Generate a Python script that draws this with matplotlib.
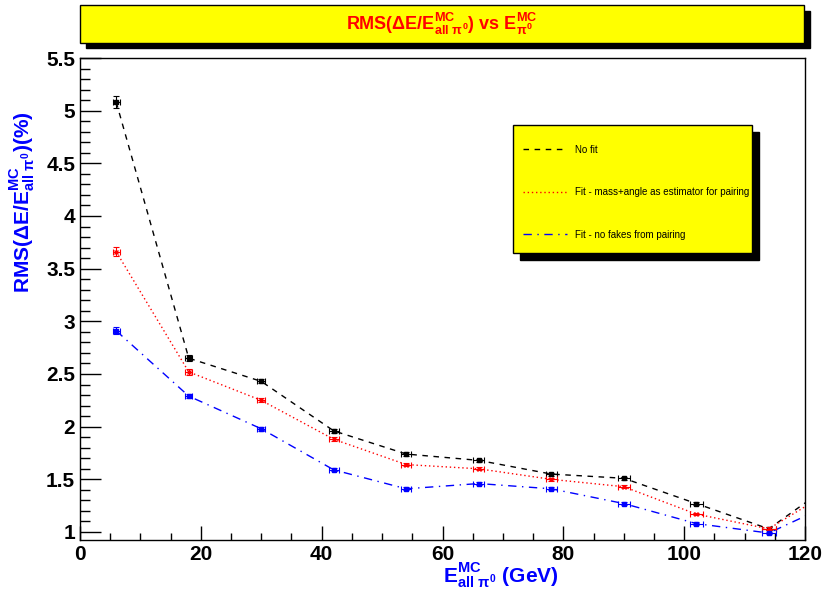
import matplotlib
matplotlib.use("Agg")
import matplotlib.pyplot as plt
from matplotlib.patches import Rectangle
from matplotlib.ticker import MultipleLocator

plt.rcParams['font.family'] = ['Liberation Sans', 'DejaVu Sans']
plt.rcParams['mathtext.fontset'] = 'custom'
plt.rcParams['mathtext.rm'] = 'Liberation Sans:bold'
plt.rcParams['mathtext.it'] = 'Liberation Sans:bold'
plt.rcParams['mathtext.bf'] = 'Liberation Sans:bold'

# Energy bins (GeV); the last one sits outside the visible range
energie = [6, 18, 30, 42, 54, 66, 78, 90, 102, 114, 126]
energie_err = [0.6, 0.6, 0.7, 0.8, 0.8, 0.9, 0.9, 1.0, 1.1, 1.2, 1.2]

rms_no_fit = [5.08, 2.65, 2.43, 1.96, 1.74, 1.68, 1.55, 1.51, 1.27, 1.03, 1.52]
rms_no_fit_err = [0.055, 0.03, 0.02, 0.018, 0.015, 0.015, 0.014, 0.014, 0.013, 0.013, 0.013]

rms_fit_angle = [3.66, 2.52, 2.25, 1.88, 1.64, 1.60, 1.50, 1.43, 1.17, 1.03, 1.45]
rms_fit_angle_err = [0.043, 0.025, 0.02, 0.018, 0.015, 0.015, 0.014, 0.014, 0.013, 0.013, 0.013]

rms_no_fakes = [2.91, 2.29, 1.98, 1.59, 1.41, 1.46, 1.41, 1.27, 1.08, 0.99, 1.31]
rms_no_fakes_err = [0.033, 0.02, 0.018, 0.015, 0.013, 0.013, 0.013, 0.012, 0.012, 0.012, 0.012]

series = [
    (rms_no_fit, rms_no_fit_err, "black", (0, (4, 4)), "s", "No fit"),
    (rms_fit_angle, rms_fit_angle_err, "red", (0, (1, 2)), "x",
     "Fit - mass+angle as estimator for pairing"),
    (rms_no_fakes, rms_no_fakes_err, "blue", (0, (6, 4, 1, 4)), "s",
     "Fit - no fakes from pairing"),
]

fig = plt.figure(figsize=(8.22, 5.94), dpi=100)
W, H = 822, 594

def box(x0, y0, x1, y1, **kw):
    # rectangle in figure pixels (y measured from top)
    fig.patches.append(Rectangle((x0 / W, 1 - y1 / H), (x1 - x0) / W, (y1 - y0) / H,
                                 transform=fig.transFigure, figure=fig, **kw))

# Title box with shadow
box(86, 11, 810, 48, facecolor="black", edgecolor="black", zorder=0)
box(80, 5, 804, 43, facecolor="#ffff00", edgecolor="black", linewidth=1, zorder=1)
fig.text((80 + 804) / 2 / W, 1 - 24 / H,
         r"RMS($\Delta$E/E$^{MC}_{all\ \pi^0}$) vs E$^{MC}_{\pi^0}$",
         color="red", fontsize=13, fontweight="bold", ha="center", va="center")

ax = fig.add_axes([80 / W, 1 - 540 / H, 725 / W, 482 / H])

handles = []
for vals, errs, col, ls, mk, lab in series:
    ax.errorbar(energie, vals, yerr=errs, xerr=energie_err, color=col, ecolor=col,
                fmt="none", elinewidth=0.8, capsize=2, capthick=0.8, zorder=3)
    ax.plot(energie, vals, color=col, marker=mk, markersize=3, linestyle="none", zorder=3)
    h, = ax.plot(energie, vals, color=col, linestyle=ls, linewidth=1, label=lab, zorder=2)
    handles.append(h)

ax.set_xlim(0, 120)
ax.set_ylim(0.924, 5.5)
ax.xaxis.set_major_locator(MultipleLocator(20))
ax.xaxis.set_minor_locator(MultipleLocator(5))
ax.yaxis.set_major_locator(MultipleLocator(0.5))
ax.yaxis.set_minor_locator(MultipleLocator(0.1))
ax.yaxis.set_major_formatter(matplotlib.ticker.FuncFormatter(lambda v, p: f"{v:g}"))
ax.tick_params(axis="both", which="both", direction="in", top=False, right=False,
               labelsize=15)
ax.tick_params(axis="y", which="major", length=15, width=1)
ax.tick_params(axis="y", which="minor", length=7.5, width=1)
ax.tick_params(axis="x", which="major", length=10, width=1)
ax.tick_params(axis="x", which="minor", length=5, width=1)
for lbl in ax.get_xticklabels() + ax.get_yticklabels():
    lbl.set_fontweight("bold")
for sp in ax.spines.values():
    sp.set_linewidth(1)

ax.set_xlabel(r"E$^{MC}_{all\ \pi^0}$ (GeV)", color="blue", fontsize=15, fontweight="bold")
ax.xaxis.set_label_coords(0.58, -0.045)
ax.set_ylabel(r"RMS($\Delta$E/E$^{MC}_{all\ \pi^0}$)(%)", color="blue", fontsize=15,
              fontweight="bold")
ax.yaxis.set_label_coords(-0.058, 0.70)

# Legend box with shadow
box(520, 132, 759, 260, facecolor="black", edgecolor="black", zorder=0)
box(513, 125, 752, 253, facecolor="#ffff00", edgecolor="black", linewidth=1, zorder=1)
leg = fig.legend(handles=handles, loc="upper left",
                 bbox_to_anchor=(514 / W, 1 - 136 / H), frameon=False, fontsize=7,
                 handlelength=4.6, labelspacing=3.35, handletextpad=0.8)

fig.savefig("out.png", dpi=100)
